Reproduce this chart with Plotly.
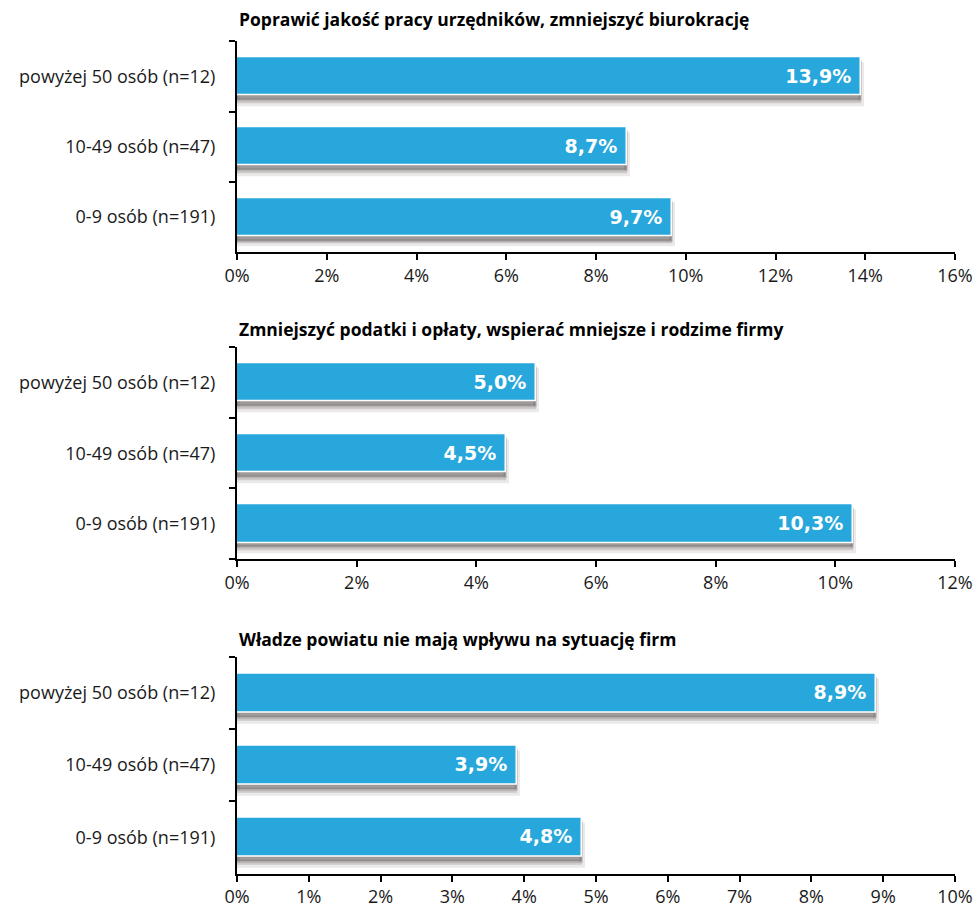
import plotly.graph_objects as go

categories = ["0-9 osób (n=191)", "10-49 osób (n=47)", "powyżej 50 osób (n=12)"]
titles = [
    "Poprawić jakość pracy urzędników, zmniejszyć biurokrację",
    "Zmniejszyć podatki i opłaty, wspierać mniejsze i rodzime firmy",
    "Władze powiatu nie mają wpływu na sytuację firm",
]
values_1 = [9.7, 8.7, 13.9]
values_2 = [10.3, 4.5, 5.0]
values_3 = [4.8, 3.9, 8.9]
x_ranges = [[0, 16], [0, 12], [0, 10]]
x_dticks = [2, 2, 1]

series = [values_1, values_2, values_3]

W, H = 975, 908
mt, mb = 0, 30
ph = H - mt - mb
# panel pixel extents (top, bottom)
panels_px = [(41.5, 253), (348.5, 561), (659, 876.5)]
title_px = [19, 330, 641]

def py(px):
    return (H - mb - px) / ph

BLUE = "#27A7DB"
fig = go.Figure()
label_font = dict(family="Open Sans, sans-serif", size=18, color="#1a1a1a")

for i, vals in enumerate(series):
    n = i + 1
    xa = "x" if n == 1 else f"x{n}"
    ya = "y" if n == 1 else f"y{n}"
    # soft shadow (two layers)
    fig.add_trace(go.Bar(
        x=vals, y=categories, orientation="h", xaxis=xa, yaxis=ya,
        width=0.54, offset=-0.38,
        marker=dict(color="rgba(120,110,110,0.25)", line=dict(color="rgba(120,110,110,0.15)", width=6)),
        hoverinfo="skip", showlegend=False,
    ))
    fig.add_trace(go.Bar(
        x=vals, y=categories, orientation="h", xaxis=xa, yaxis=ya,
        width=0.54, offset=-0.34,
        marker=dict(color="rgba(85,75,75,0.45)", line=dict(color="rgba(85,75,75,0.2)", width=3)),
        hoverinfo="skip", showlegend=False,
    ))
    fig.add_trace(go.Bar(
        x=vals, y=categories, orientation="h", xaxis=xa, yaxis=ya,
        width=0.54, offset=-0.27,
        marker=dict(color=BLUE, line=dict(color="white", width=1.5)),
        texttemplate="<b>%{x:.1f}%</b> ", textposition="inside", insidetextanchor="end",
        textfont=dict(family="DejaVu Sans", size=19, color="white"),
        hoverinfo="skip", showlegend=False, cliponaxis=False,
    ))
    top, bot = panels_px[i]
    fig.layout[("xaxis" if n == 1 else f"xaxis{n}")] = dict(
        domain=[0, 1], anchor=ya, range=x_ranges[i], dtick=x_dticks[i], tick0=0,
        ticksuffix="%", showgrid=False, zeroline=False, showline=True,
        linecolor="black", linewidth=2, ticks="outside", ticklen=6, tickwidth=2,
        tickcolor="black", tickfont=label_font, fixedrange=True,
    )
    fig.layout[("yaxis" if n == 1 else f"yaxis{n}")] = dict(
        domain=[py(bot), py(top)], anchor=xa, type="category",
        categoryorder="array", categoryarray=categories,
        showgrid=False, zeroline=False, showline=True, linecolor="black", linewidth=2,
        ticks="outside", ticklen=6, tickwidth=2, tickcolor="black",
        tickson="boundaries", tickfont=label_font, ticklabelstandoff=16,
        fixedrange=True,
    )
    fig.add_annotation(
        text=f"<b>{titles[i]}</b>", xref="paper", yref="paper",
        x=0, y=py(title_px[i]), xanchor="left", yanchor="middle", showarrow=False,
        font=dict(family="Open Sans, sans-serif", size=17.5, color="black"),
    )

fig.update_layout(
    width=W, height=H, barmode="overlay", separators=", ",
    margin=dict(l=237, r=20, t=mt, b=mb),
    plot_bgcolor="white", paper_bgcolor="white",
    bargap=0,
)

fig.write_html("out.html")
